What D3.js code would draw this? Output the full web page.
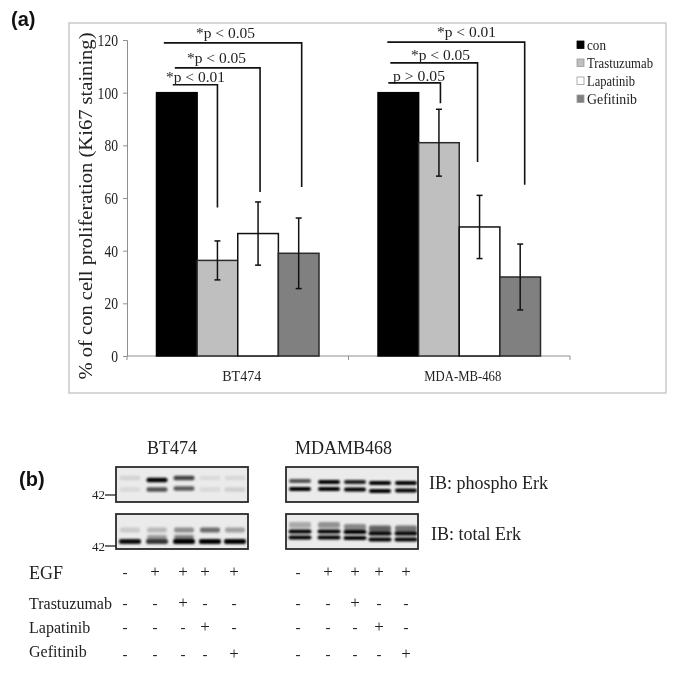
<!DOCTYPE html>
<html><head><meta charset="utf-8">
<script src="https://cdn.jsdelivr.net/npm/d3@7/dist/d3.min.js"></script>
<style>
html,body{margin:0;padding:0;background:#fff}
svg{display:block;filter:blur(.4px)}
text{font-family:"Liberation Serif",serif;fill:#222}
.panel{font-family:"Liberation Sans",Arial,sans-serif;font-weight:bold;fill:#111}
</style></head><body>
<div id="chart"></div>
<script>
// ---------- data ----------
const groups = ["BT474", "MDA-MB-468"];
const treatments = ["con", "Trastuzumab", "Lapatinib", "Gefitinib"];
const btMeans = [100, 36.3, 46.5, 39];
const mdaMeans = [100, 81, 49, 30];
const btErrors = [0, 7.4, 12, 13.4];
const mdaErrors = [0, 12.7, 12, 12.5];
const yTicks = [0, 20, 40, 60, 80, 100, 120];
const btBrackets = [
  {label: "*p < 0.01", target: 1, top: 103, bottom: 56.4},
  {label: "*p < 0.05", target: 2, top: 109.4, bottom: 62.3},
  {label: "*p < 0.05", target: 3, top: 118.9, bottom: 64.2}];
const mdaBrackets = [
  {label: "p > 0.05", target: 1, top: 103.7, bottom: 96},
  {label: "*p < 0.05", target: 2, top: 111.3, bottom: 73.7},
  {label: "*p < 0.01", target: 3, top: 119.2, bottom: 65}];
const blotRows = ["EGF", "Trastuzumab", "Lapatinib", "Gefitinib"];
const blotSigns = [
  ["-", "+", "+", "+", "+"],
  ["-", "-", "+", "-", "-"],
  ["-", "-", "-", "+", "-"],
  ["-", "-", "-", "-", "+"]];
// band intensity per lane, one array per band of each blot
const btPhosphoUpper = [.10, 1, .72, .07, .08];
const btPhosphoLower = [.08, .66, .62, .08, .12];
const btTotalUpper = [.14, .22, .40, .55, .32];
const btTotalMid = [0, .34, .46, 0, 0];
const btTotalLower = [.95, .78, 1, 1, 1];
const mdaPhosphoUpper = [.66, 1, .88, 1, 1];
const mdaPhosphoLower = [1, 1, 1, 1, 1];
const mdaTotalUpper = [.28, .38, .42, .58, .5];
const mdaTotalMid = [1, 1, 1, 1, 1];
const mdaTotalLower = [1, 1, 1, 1, 1];

// ---------- layout ----------
const W = 685, H = 675;
const svg = d3.select("#chart").append("svg").attr("width", W).attr("height", H);
const defs = svg.append("defs");
defs.append("filter").attr("id", "blur").attr("x", "-30%").attr("y", "-100%").attr("width", "160%").attr("height", "300%")
  .append("feGaussianBlur").attr("stdDeviation", "1.2 .8");

const colors = d3.scaleOrdinal().domain(treatments).range(["#000", "#bfbfbf", "#fff", "#808080"]);
const strokes = d3.scaleOrdinal().domain(treatments).range(["#000", "#2a2a2a", "#111", "#2a2a2a"]);

svg.append("text").attr("class", "panel").attr("x", 11).attr("y", 26).attr("font-size", 20).text("(a)");
svg.append("text").attr("class", "panel").attr("x", 19).attr("y", 486).attr("font-size", 20).text("(b)");

svg.append("rect").attr("x", 69).attr("y", 23).attr("width", 597).attr("height", 370)
  .attr("fill", "#fff").attr("stroke", "#bdbdbd").attr("stroke-width", 1.2);

const y = d3.scaleLinear().domain([0, 120]).range([356, 40]);
const x0 = d3.scaleBand().domain(groups).range([127, 570]);
const x1 = d3.scaleBand().domain(treatments).range([29.5, x0.bandwidth() - 29.5]);

const gy = svg.append("g").attr("transform", "translate(127,0)")
  .call(d3.axisLeft(y).tickValues(yTicks).tickSize(4).tickPadding(5));
gy.selectAll("path,line").attr("stroke", "#8f8f8f");
gy.selectAll("text").attr("font-size", 17).attr("font-family", "Liberation Serif").attr("fill", "#222")
  .attr("textLength", d => String(d).length * 6.8).attr("lengthAdjust", "spacingAndGlyphs");

const gx = svg.append("g").attr("transform", "translate(0,356)");
gx.append("path").attr("d", d3.line()([[x0.range()[0], 0], [x0.range()[1], 0]])).attr("stroke", "#8f8f8f");
gx.selectAll("line").data([x0.range()[0], x0(groups[1]), x0.range()[1]]).join("line")
  .attr("x1", d => d).attr("x2", d => d).attr("y1", 0).attr("y2", 4).attr("stroke", "#8f8f8f");
gx.selectAll("text").data(groups).join("text")
  .attr("x", d => x0(d) + x0.bandwidth() / 2 + (d === groups[0] ? 4 : 3.5)).attr("y", 25)
  .attr("text-anchor", "middle").attr("font-size", 15)
  .attr("textLength", d => d === groups[0] ? 39 : 77).attr("lengthAdjust", "spacingAndGlyphs").text(d => d);

svg.append("text").attr("transform", "translate(92,206) rotate(-90)").attr("text-anchor", "middle")
  .attr("font-size", 18).attr("textLength", 347).attr("lengthAdjust", "spacingAndGlyphs")
  .text("% of con cell proliferation (Ki67 staining)");

[[groups[0], btMeans, btErrors], [groups[1], mdaMeans, mdaErrors]].forEach(([g, means, errs]) => {
  const gg = svg.append("g").attr("transform", `translate(${x0(g)},0)`);
  const rows = treatments.map((t, i) => ({t, v: means[i], e: errs[i]}));
  gg.selectAll("rect").data(rows).join("rect")
    .attr("x", d => x1(d.t)).attr("width", x1.bandwidth())
    .attr("y", d => y(d.v)).attr("height", d => y(0) - y(d.v))
    .attr("fill", d => colors(d.t)).attr("stroke", d => strokes(d.t)).attr("stroke-width", 1.5);
  const eb = gg.selectAll("g.err").data(rows.filter(d => d.e > 0)).join("g").attr("class", "err")
    .attr("transform", d => `translate(${x1(d.t) + x1.bandwidth() / 2},0)`).attr("stroke", "#111").attr("stroke-width", 1.5);
  eb.append("line").attr("y1", d => y(d.v - d.e)).attr("y2", d => y(d.v + d.e));
  [-1, 1].forEach(s => eb.append("line").attr("x1", -3).attr("x2", 3)
    .attr("y1", d => y(d.v + s * d.e)).attr("y2", d => y(d.v + s * d.e)));
});

// significance brackets
const leftOffsets = [[-4, -2, -13], [-10, -8, -11]];
const rightOffsets = [[0, 2, 3], [1.5, -2, 4.5]];
const labelX = [[166, 187, 196], [393, 411, 437]];
const labelBase = [[82, 63, 38], [81, 60, 37]];
[btBrackets, mdaBrackets].forEach((set, gi) => {
  const cx = t => x0(groups[gi]) + x1(treatments[t]) + x1.bandwidth() / 2;
  set.forEach((b, i) => {
    const xr = cx(b.target) + rightOffsets[gi][i];
    const xl = cx(0) + leftOffsets[gi][i];
    svg.append("path").attr("fill", "none").attr("stroke", "#111").attr("stroke-width", 1.6)
      .attr("d", d3.line()([[xl, y(b.top)], [xr, y(b.top)], [xr, y(b.bottom)]]));
    svg.append("text").attr("x", labelX[gi][i]).attr("y", labelBase[gi][i])
      .attr("font-size", 15).attr("textLength", b.label[0] === "*" ? 59 : 52)
      .attr("lengthAdjust", "spacingAndGlyphs").text(b.label);
  });
});

// legend
const legend = svg.append("g");
const ly = d3.scalePoint().domain(treatments).range([45, 99]);
legend.selectAll("rect").data(treatments).join("rect")
  .attr("x", 577).attr("y", d => ly(d) - 4).attr("width", 7).attr("height", 7.5)
  .attr("fill", d => colors(d)).attr("stroke", d => d === "con" ? "#000" : "#999").attr("stroke-width", .8);
legend.selectAll("text").data(treatments).join("text")
  .attr("x", 587).attr("y", d => ly(d) + 5).attr("font-size", 15)
  .attr("textLength", d => ({con: 19, Trastuzumab: 66, Lapatinib: 48, Gefitinib: 50}[d]))
  .attr("lengthAdjust", "spacingAndGlyphs").text(d => d);

// blots
const laneBT = [130, 157, 184, 210, 235], laneMDA = [300, 329, 355, 380, 406];
function blot(id, lanes, x, top, bands) {
  const w = 132, h = 35;
  defs.append("clipPath").attr("id", id).append("rect").attr("x", x).attr("y", top).attr("width", w).attr("height", h);
  svg.append("rect").attr("x", x).attr("y", top).attr("width", w).attr("height", h).attr("fill", "#ebebeb");
  const g = svg.append("g").attr("clip-path", `url(#${id})`).append("g").attr("filter", "url(#blur)");
  bands.forEach(b => {
    g.selectAll(null).data(b.values).join("rect")
      .attr("x", (d, i) => lanes[i] - b.w / 2)
      .attr("y", (d, i) => top + b.y + (b.shift ? b.shift[i] : 0) - b.t / 2)
      .attr("width", b.w).attr("height", b.t).attr("rx", 2)
      .attr("fill", "#000").attr("opacity", d => d);
  });
  svg.append("rect").attr("x", x).attr("y", top).attr("width", w).attr("height", h)
    .attr("fill", "none").attr("stroke", "#2a2a2a").attr("stroke-width", 1.8);
}
blot("b1", laneBT, 116, 467, [
  {values: btPhosphoUpper, y: 12, t: 4.5, w: 21, shift: [-1, 1, -1, -1, -1]},
  {values: btPhosphoLower, y: 21.5, t: 4.5, w: 21, shift: [1, 1, 0, 1, 1]}]);
blot("b2", laneBT, 116, 514, [
  {values: btTotalUpper, y: 16, t: 4.8, w: 20},
  {values: btTotalMid, y: 23, t: 3.8, w: 20},
  {values: btTotalLower, y: 27.5, t: 5, w: 22}]);
blot("b3", laneMDA, 286, 467, [
  {values: mdaPhosphoUpper, y: 14, t: 4, w: 22, shift: [0, 1, 1, 2, 2]},
  {values: mdaPhosphoLower, y: 22, t: 4, w: 22, shift: [0, 0, 0.5, 2, 1.5]}]);
blot("b4", laneMDA, 286, 514, [
  {values: mdaTotalUpper, y: 11, t: 5.8, w: 22, shift: [0, 0, 2, 3.5, 3.5]},
  {values: mdaTotalMid, y: 17.5, t: 3.8, w: 23, shift: [0, 0, 0.5, 2, 2]},
  {values: mdaTotalLower, y: 23.5, t: 3.8, w: 23, shift: [0, 0, 0.5, 2, 2]}]);

[[116, 495, 498.5], [116, 546, 551]].forEach(([xx, ty, by]) => {
  svg.append("line").attr("x1", xx - 11).attr("x2", xx).attr("y1", ty).attr("y2", ty).attr("stroke", "#222").attr("stroke-width", 1.3);
  svg.append("text").attr("x", 92).attr("y", by).attr("font-size", 13).attr("font-family", "Liberation Sans").text("42");
});

const t18 = (s, xx, yy) => svg.append("text").attr("x", xx).attr("y", yy).attr("font-size", 18).text(s);
t18("BT474", 147, 454);
t18("MDAMB468", 295, 454);
t18("IB: phospho Erk", 429, 489);
t18("IB: total Erk", 431, 540);

// treatment table
const rowLabelY = [579, 609, 633, 657];
const rowSignY = [572, 603, 627, 654];
const colsBT = [125, 155, 183, 205, 234], colsMDA = [298, 328, 355, 379, 406];
blotRows.forEach((r, i) => {
  svg.append("text").attr("x", 29).attr("y", rowLabelY[i]).attr("font-size", i === 0 ? 18 : 16).text(r);
  [colsBT, colsMDA].forEach(cols => {
    svg.append("g").selectAll("text").data(blotSigns[i]).join("text")
      .attr("x", (d, k) => cols[k]).attr("y", rowSignY[i] + 5)
      .attr("text-anchor", "middle").attr("font-size", d => d === "+" ? 17 : 15).attr("fill", "#333")
      .text(d => d);
  });
});
</script>
</body></html>
